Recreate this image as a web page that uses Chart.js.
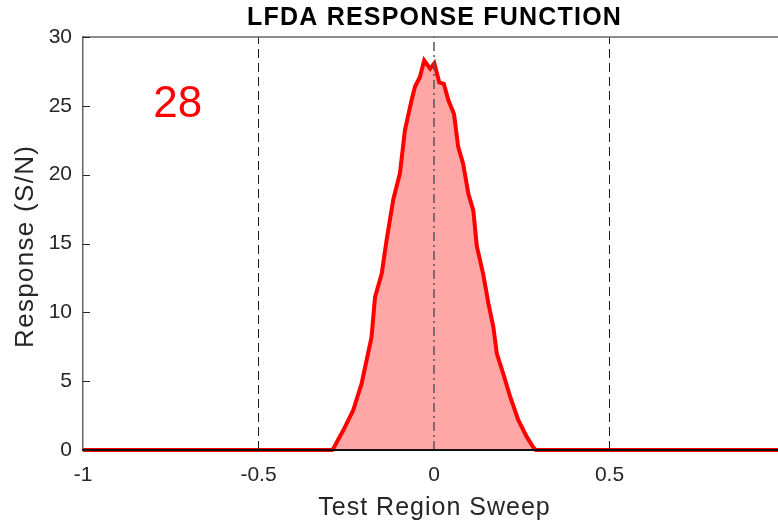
<!DOCTYPE html>
<html>
<head>
<meta charset="utf-8">
<script src="https://cdn.jsdelivr.net/npm/chart.js@4"></script>
<style>
  html, body { margin: 0; padding: 0; background: #fff; overflow: hidden; }
  #lfda { display: block; }
</style>
</head>
<body>
<canvas id="lfda" width="800" height="524"></canvas>
<script>
// sweep positions and measured response (S/N)
const sweep = [-1, -0.29, -0.287, -0.258, -0.230, -0.206, -0.178, -0.168, -0.149, -0.135, -0.116,
  -0.097, -0.083, -0.064, -0.054, -0.040, -0.028, -0.011, 0.001, 0.015, 0.028, 0.041, 0.057,
  0.069, 0.083, 0.098, 0.112, 0.122, 0.140, 0.155, 0.169, 0.179, 0.197, 0.217, 0.240, 0.264,
  0.283, 0.29, 1];
const response = [0, 0, 0.1, 1.45, 2.9, 4.85, 8.2, 11.1, 12.8, 15.25, 18.2,
  20.1, 23.2, 25.4, 26.4, 27.1, 28.3, 27.7, 28.1, 26.7, 26.6, 25.4, 24.4,
  22.0, 20.8, 18.6, 17.4, 14.8, 12.8, 10.65, 8.95, 7.0, 5.57, 3.87, 2.18, 0.97,
  0.2, 0, 0];

// region markers
const edges = [-0.5, 0.5];
const centre = 0;

const xTicks = [-1, -0.5, 0, 0.5];
const yTicks = [0, 5, 10, 15, 20, 25, 30];

const titleText = 'LFDA RESPONSE FUNCTION';
const xLabel = 'Test Region Sweep';
const yLabel = 'Response (S/N)';

const peakValue = Math.round(Math.max(...response));

const FONT = '"Liberation Sans", Arial, Helvetica, sans-serif';
const INK = '#262626';

const curve = sweep.map((x, i) => ({ x: x, y: response[i] }));

function vline(x) {
  return [{ x: x, y: 0 }, { x: x, y: 30 }];
}

const datasets = [
  {
    data: curve,
    borderColor: '#ff0000',
    backgroundColor: 'rgba(255, 0, 0, 0.35)',
    borderWidth: 4,
    fill: 'origin',
    pointRadius: 0,
    tension: 0,
    clip: false,
    order: 2
  }
];
edges.forEach(x => datasets.push({
  data: vline(x),
  borderColor: '#1a1a1a',
  borderWidth: 1,
  borderDash: [9, 5],
  pointRadius: 0,
  fill: false,
  order: 1
}));
datasets.push({
  data: vline(centre),
  borderColor: '#555555',
  borderWidth: 1.5,
  borderDash: [9, 4, 2, 4],
  pointRadius: 0,
  fill: false,
  order: 1
});

function spacedText(c, text, x, y, spacing) {
  c.letterSpacing = spacing + 'px';
  c.fillText(text, x + spacing / 2, y);
  c.letterSpacing = '0px';
}

// frame, inward ticks and all the text
const decor = {
  id: 'decor',
  afterDraw(chart) {
    const c = chart.ctx;
    const a = chart.chartArea;
    const ys = chart.scales.y;
    c.save();
    // top frame line
    c.strokeStyle = '#666';
    c.lineWidth = 1.5;
    c.beginPath();
    c.moveTo(a.left, a.top);
    c.lineTo(a.right, a.top);
    c.stroke();
    // inward y ticks
    c.strokeStyle = INK;
    c.lineWidth = 1;
    yTicks.forEach(v => {
      const py = Math.round(ys.getPixelForValue(v)) + 0.5;
      c.beginPath();
      c.moveTo(a.left, py);
      c.lineTo(a.left + 7, py);
      c.stroke();
    });

    const midX = chart.scales.x.getPixelForValue(0);
    c.textAlign = 'center';
    c.textBaseline = 'middle';
    c.fillStyle = '#000';
    c.font = 'bold 25px ' + FONT;
    spacedText(c, titleText, midX, 18, 1.2);

    c.fillStyle = INK;
    c.font = '25px ' + FONT;
    spacedText(c, xLabel, midX, 508, 1);

    c.save();
    c.translate(26, 247);
    c.rotate(-Math.PI / 2);
    c.font = '26px ' + FONT;
    spacedText(c, yLabel, 0, 0, 1.3);
    c.restore();

    c.fillStyle = '#ff0000';
    c.font = '44px ' + FONT;
    c.fillText(String(peakValue), chart.scales.x.getPixelForValue(-0.73), ys.getPixelForValue(25.05));
    c.restore();
  }
};

new Chart(document.getElementById('lfda').getContext('2d'), {
  type: 'line',
  data: { datasets: datasets },
  options: {
    responsive: false,
    animation: false,
    devicePixelRatio: 1,
    layout: { padding: { top: 37, right: 15, left: 0, bottom: 0 } },
    plugins: {
      legend: { display: false },
      tooltip: { enabled: false },
      title: { display: false }
    },
    scales: {
      x: {
        type: 'linear',
        min: -1,
        max: 1,
        afterFit(s) { s.height = 74; s.paddingRight = 0; s.paddingLeft = 0; },
        afterBuildTicks(s) { s.ticks = xTicks.map(v => ({ value: v })); },
        grid: { display: false, drawTicks: false },
        border: { display: true, color: '#111', width: 2, z: 1 },
        ticks: {
          padding: 13,
          color: INK,
          font: { family: FONT, size: 21 },
          maxRotation: 0,
          callback: v => String(v)
        }
      },
      y: {
        type: 'linear',
        min: 0,
        max: 30,
        afterFit(s) { s.width = 83; },
        afterBuildTicks(s) { s.ticks = yTicks.map(v => ({ value: v })); },
        grid: { display: false, drawTicks: false },
        border: { display: true, color: '#666', width: 1.5 },
        ticks: {
          padding: 11,
          color: INK,
          font: { family: FONT, size: 21 },
          callback: v => String(v)
        }
      }
    }
  },
  plugins: [decor]
});
</script>
</body>
</html>
